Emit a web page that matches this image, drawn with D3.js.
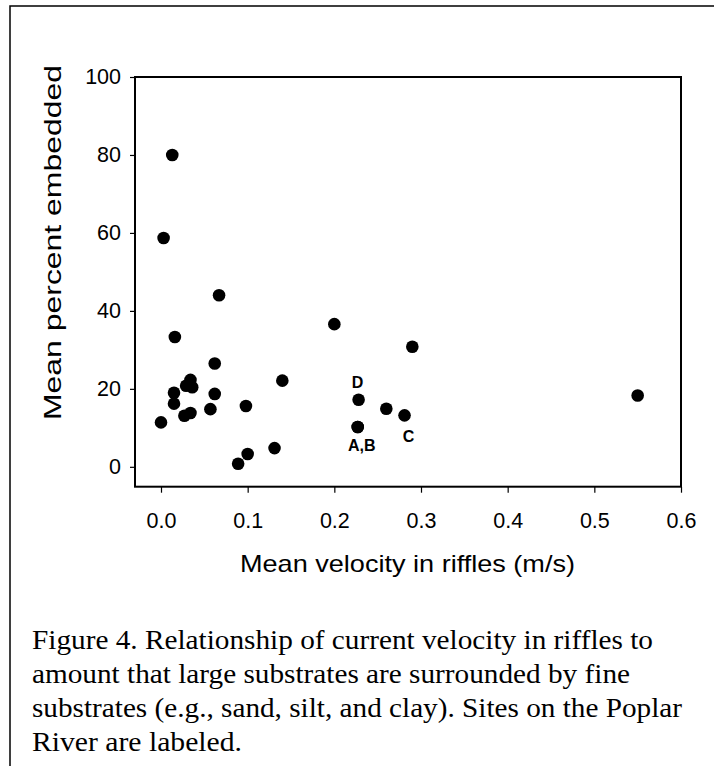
<!DOCTYPE html>
<html><head><meta charset="utf-8">
<script src="https://cdn.jsdelivr.net/npm/d3@7"></script>
<style>body{margin:0;background:#fff}</style>
</head><body><svg id="c" width="714" height="766"></svg>
<script>
const velocity = [0.013,0.003,0.067,0.016,0.2,0.29,0.062,0.034,0.029,0.036,0.015,0.062,0.14,0.015,0.098,0.057,0.034,0.027,0.0,0.228,0.26,0.281,0.227,0.227,0.131,0.1,0.089,0.55];
const embedded = [80,58.7,44,33.3,36.6,30.8,26.5,22.3,20.8,20.4,19,18.7,22.1,16.2,15.6,14.8,13.8,13.1,11.4,17.2,14.9,13.2,10.2,10.2,4.8,3.3,0.8,18.3];
const siteLabels = [{t:"D",x:0.228,y:17.2,dx:-1,dy:-17},{t:"C",x:0.281,y:13.2,dx:4,dy:21},{t:"A,B",x:0.227,y:10.2,dx:4,dy:18}];
const xTicks = [0,0.1,0.2,0.3,0.4,0.5,0.6];
const yTicks = [0,20,40,60,80,100];

const svg = d3.select("#c");
svg.append("rect").attr("x",10).attr("y",6).attr("width",720).attr("height",780).attr("fill","none").attr("stroke","#000").attr("stroke-width",1.5);
const x = d3.scaleLinear().domain([-0.03,0.6]).range([135,681]);
const y = d3.scaleLinear().domain([-5.1,100]).range([486.7,77]);
svg.append("rect").attr("x",135).attr("y",77).attr("width",546).attr("height",409.7).attr("fill","none").attr("stroke","#000").attr("stroke-width",2);
const xa = svg.append("g").attr("transform","translate(0,486.7)").call(d3.axisBottom(x).tickValues(xTicks).tickFormat(d3.format(".1f")).tickSize(6).tickPadding(20));
const ya = svg.append("g").attr("transform","translate(135,0)").call(d3.axisLeft(y).tickValues(yTicks).tickSize(5).tickPadding(9));
[xa,ya].forEach(a=>{a.select(".domain").remove();a.selectAll("line").attr("stroke","#000").attr("stroke-width",1.2);a.selectAll("text").attr("font-family","Arial, Liberation Sans").attr("font-size",21.5).attr("fill","#000");});
svg.selectAll("circle.p").data(velocity.map((v,i)=>[v,embedded[i]])).enter().append("circle")
 .attr("cx",d=>x(d[0])).attr("cy",d=>y(d[1])).attr("r",6.3).attr("fill","#000");
svg.selectAll("text.s").data(siteLabels).enter().append("text")
 .attr("x",d=>x(d.x)+d.dx).attr("y",d=>y(d.y)+d.dy).attr("dy","0.35em").attr("text-anchor","middle")
 .attr("font-family","Arial, Liberation Sans").attr("font-weight","bold").attr("font-size",16).text(d=>d.t);
svg.append("text").attr("x",240).attr("y",572).attr("textLength",335).attr("lengthAdjust","spacingAndGlyphs").attr("font-family","Arial, Liberation Sans").attr("font-size",24).text("Mean velocity in riffles (m/s)");
svg.append("text").attr("transform","translate(61,420) rotate(-90)").attr("textLength",355).attr("lengthAdjust","spacingAndGlyphs").attr("font-family","Arial, Liberation Sans").attr("font-size",24).text("Mean percent embedded");
const cap = ["Figure 4. Relationship of current velocity in riffles to","amount that large substrates are surrounded by fine","substrates (e.g., sand, silt, and clay). Sites on the Poplar","River are labeled."];
const capLen = [621,598,650,210];
svg.selectAll("text.cap").data(cap).enter().append("text").attr("x",32).attr("y",(d,i)=>649+i*34)
 .attr("textLength",(d,i)=>capLen[i]).attr("lengthAdjust","spacingAndGlyphs")
 .attr("font-family","Liberation Serif, Times New Roman").attr("font-size",27).text(d=>d);
</script></body></html>
